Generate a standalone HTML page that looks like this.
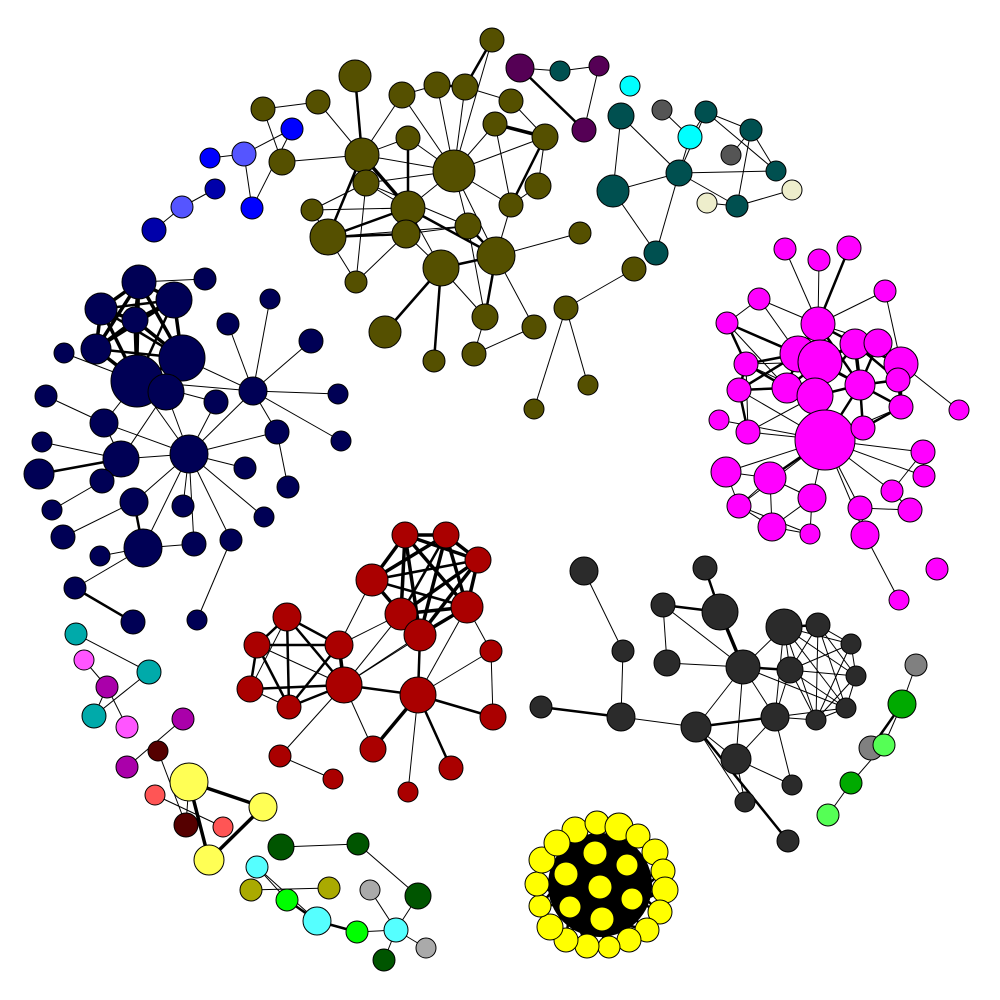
<!DOCTYPE html>
<html><head><meta charset="utf-8"><style>
html,body{margin:0;padding:0;background:#fff;}
svg{display:block;}
</style></head><body>
<svg id="net" width="1000" height="1000" viewBox="0 0 1000 1000" xmlns="http://www.w3.org/2000/svg"></svg>
<script>
// Each node: [x, y, r, color]; each edge: [i, j, width]
const oliveNodes=[[492,40,12],[355,76,16],[263,109,12],[318,102,12],[402,95,13],[437,85,13],[465,87,13],[511,101,12],[282,162,13],[362,155,17],[408,138,12],[495,124,12],[545,137,13],[454,171,21],[366,183,13],[312,210,11],[408,208,17],[328,237,18],[406,234,14],[468,226,13],[511,205,12],[538,186,13],[496,256,19],[441,268,18],[580,233,11],[356,282,11],[385,332,16],[485,317,13],[534,327,12],[566,308,12],[474,354,12],[434,361,11],[588,385,10],[534,409,10],[634,269,12]];
const oliveEdges=[[0,6,2],[0,13,1],[1,9,2],[2,3,1],[3,9,1],[8,9,1],[4,5,1],[5,6,2],[6,7,1],[4,13,1],[5,13,1],[6,13,1],[9,13,1],[10,16,2],[11,12,3],[11,13,1],[12,21,1],[12,13,1],[13,14,1],[13,16,1],[13,19,1],[13,22,1],[13,20,1],[9,14,1],[9,16,3],[9,17,2],[14,16,1],[15,16,1],[16,17,2],[16,18,1],[17,18,2],[17,25,1],[18,23,1],[18,19,1],[19,22,2],[22,23,2],[16,23,1],[23,31,2],[23,26,2],[22,27,2],[22,28,1],[22,24,1],[27,30,1],[22,20,1],[20,21,1],[11,20,1],[12,20,2],[29,34,1],[29,32,1],[29,33,1],[28,30,1],[14,25,1],[25,18,1],[9,4,1],[9,10,1],[17,19,1],[14,19,1],[16,22,2],[27,23,1],[19,27,1],[7,12,1],[10,13,1],[14,15,1],[15,17,1],[8,2,1]];
const purpleNodes=[[520,68,14,'#550055'],[599,66,10,'#550055'],[584,130,12,'#550055'],[560,71,10,'#005050']];
const purpleEdges=[[0,3,1],[3,1,1],[1,2,1],[0,2,2]];
const tealNodes=[[621,116,13,'#005050'],[613,191,16,'#005050'],[679,173,13,'#005050'],[706,112,11,'#005050'],[751,130,11,'#005050'],[776,171,10,'#005050'],[737,206,11,'#005050'],[656,253,12,'#005050'],[630,86,10,'#00ffff'],[690,137,12,'#00ffff'],[662,110,10,'#555555'],[731,155,10,'#555555'],[707,203,10,'#eeeecc'],[792,190,10,'#eeeecc']];
const tealEdges=[[0,1,1],[0,2,1],[1,2,1],[2,7,1],[2,9,1],[2,3,1],[2,6,1],[2,5,1],[3,4,1],[3,5,1],[4,5,1],[4,6,1],[6,13,1],[12,6,1],[10,9,1],[11,4,1],[1,7,1],[9,3,1]];
const blueNodes=[[292,129,11,'#0000ff'],[210,158,10,'#0000ff'],[244,154,12,'#5555ff'],[215,189,10,'#0000aa'],[252,208,11,'#0000ff'],[182,207,11,'#5555ff'],[154,230,12,'#0000aa']];
const blueEdges=[[0,4,1],[2,1,1],[2,4,1],[2,0,1],[3,5,1],[5,6,1]];
const navyNodes=[[139,282,17],[205,279,11],[101,309,16],[174,300,18],[135,320,13],[270,299,10],[228,324,11],[96,349,15],[182,358,23],[137,381,26],[64,353,10],[166,392,18],[253,391,14],[311,341,12],[338,394,10],[216,402,12],[46,396,11],[104,423,14],[277,432,12],[341,441,10],[42,442,10],[189,454,19],[121,459,18],[245,468,11],[39,474,15],[102,481,12],[288,487,11],[52,510,10],[134,502,14],[183,506,11],[264,517,10],[63,537,12],[143,548,19],[194,544,12],[231,540,11],[100,556,10],[75,588,11],[133,622,12],[197,620,10]];
const navyEdges=[[0,2,3],[0,3,3],[0,4,3],[0,7,3],[0,8,3],[0,9,2],[2,3,2],[2,4,3],[2,7,3],[2,8,2],[2,9,3],[3,4,3],[3,7,2],[3,8,3],[3,9,2],[4,7,3],[4,8,3],[4,9,3],[7,8,2],[7,9,3],[8,9,3],[8,11,3],[9,11,3],[0,1,1],[9,10,1],[9,12,1],[12,5,1],[12,6,1],[12,13,1],[12,14,1],[12,18,1],[12,19,1],[9,15,1],[9,17,1],[17,16,1],[17,21,1],[17,22,1],[21,9,1],[21,11,1],[21,15,1],[21,18,1],[21,23,1],[21,29,1],[21,30,1],[21,33,1],[21,34,1],[21,28,1],[21,22,1],[21,32,1],[21,12,1],[22,20,1],[22,24,2],[22,25,1],[25,27,1],[28,32,2],[28,31,1],[32,33,1],[32,35,1],[32,36,1],[36,37,2],[34,38,1],[18,26,1],[8,12,1],[11,22,1]];
const magentaNodes=[[785,249,11],[819,260,11],[849,248,12],[885,291,11],[759,299,11],[727,323,11],[818,324,17],[798,354,18],[820,362,22],[855,344,15],[878,343,14],[901,364,17],[746,364,12],[787,388,15],[815,396,18],[860,385,15],[898,380,12],[739,390,12],[901,407,12],[959,410,10],[719,420,10],[748,432,12],[825,440,30],[863,428,12],[923,452,12],[726,472,15],[770,478,16],[924,476,11],[892,491,11],[812,498,14],[739,506,12],[860,508,12],[910,510,12],[772,527,14],[810,534,10],[865,535,14],[937,569,11],[899,600,10]];
const magentaEdges=[[0,6,1],[1,6,1],[2,6,2],[3,6,1],[3,11,1],[4,6,1],[4,7,1],[4,5,1],[5,12,2],[5,7,2],[5,13,1],[5,8,1],[6,7,2],[6,8,3],[6,9,2],[6,10,1],[6,14,2],[7,8,3],[7,12,2],[7,13,2],[7,14,2],[7,17,2],[8,9,3],[8,14,3],[8,15,2],[8,13,2],[8,22,2],[9,10,2],[9,15,3],[9,11,2],[9,16,2],[10,11,2],[10,15,2],[11,16,3],[11,18,2],[11,19,1],[12,13,2],[12,17,2],[12,14,1],[13,14,3],[13,17,2],[14,15,2],[14,22,3],[14,21,1],[15,16,2],[15,18,2],[15,22,2],[15,23,2],[16,18,2],[17,21,2],[17,22,1],[18,22,1],[20,22,1],[21,22,1],[22,23,2],[22,24,1],[22,25,1],[22,26,2],[22,27,1],[22,29,1],[22,31,1],[22,28,1],[22,30,1],[22,35,1],[23,18,2],[25,26,1],[25,30,1],[26,29,1],[26,33,1],[26,30,1],[29,33,1],[29,34,1],[30,33,1],[30,34,1],[31,32,1],[31,35,1],[28,32,1],[28,24,1],[35,37,1],[24,27,1],[33,34,1],[6,15,2],[7,15,1],[9,14,2],[12,8,1],[21,12,1]];
const redNodes=[[405,535,13],[446,535,13],[478,560,13],[372,580,16],[467,607,16],[401,614,16],[420,635,16],[287,617,14],[339,645,14],[257,645,13],[491,651,11],[344,685,18],[250,689,13],[418,695,18],[289,707,12],[493,717,13],[280,756,11],[373,749,13],[333,779,10],[451,768,12],[408,792,10]];
const redEdges=[[0,1,3],[0,2,3],[0,3,3],[0,4,3],[0,5,3],[0,6,3],[1,2,3],[1,3,3],[1,4,3],[1,5,2],[1,6,3],[2,3,2],[2,4,3],[2,5,3],[2,6,3],[3,4,2],[3,5,3],[3,6,2],[4,5,3],[4,6,3],[5,6,3],[7,8,2],[7,9,2],[7,11,2],[7,14,2],[8,9,2],[8,11,3],[8,14,2],[9,11,1],[9,12,2],[9,14,2],[11,12,2],[11,14,2],[12,14,1],[7,12,1],[11,13,2],[6,13,2],[13,15,2],[13,10,1],[13,17,3],[13,19,2],[13,20,1],[11,16,1],[11,17,1],[16,18,1],[11,5,1],[11,6,1],[8,5,1],[8,3,1],[4,10,1],[15,10,1],[11,4,1],[13,4,1]];
const grayNodes=[[584,571,14],[705,568,12],[663,605,12],[720,612,18],[784,627,18],[818,625,12],[623,651,11],[851,644,10],[667,663,13],[743,667,17],[790,670,13],[856,676,10],[541,707,11],[621,717,14],[775,717,14],[846,708,10],[816,720,10],[696,727,15],[736,759,15],[792,785,10],[745,802,10],[788,841,11]];
const grayEdges=[[0,6,1],[6,13,1],[12,13,2],[13,17,1],[1,3,2],[2,3,2],[2,8,1],[3,9,3],[8,9,1],[4,5,2],[4,9,1],[4,10,1],[4,14,1],[5,7,1],[5,11,1],[5,15,1],[5,16,1],[7,11,1],[10,11,1],[10,15,1],[10,16,1],[10,14,1],[9,10,2],[9,14,1],[9,17,1],[9,18,1],[9,15,1],[14,16,1],[14,15,1],[14,17,2],[14,18,1],[14,19,1],[15,16,1],[16,11,1],[17,18,1],[17,20,1],[17,21,2],[18,20,1],[18,19,1],[4,11,1],[4,15,1],[7,16,1],[7,10,1],[5,10,1],[11,15,1],[4,7,1],[4,16,1],[2,9,1]];
const yellowNodes=[[575,830,13],[597,823,12],[619,827,14],[638,836,12],[655,852,13],[663,871,12],[665,890,13],[660,912,12],[647,930,12],[629,940,12],[609,947,11],[587,946,12],[566,940,12],[550,927,13],[540,906,11],[537,884,12],[542,860,13],[557,843,13],[595,853,12],[627,865,11],[566,874,12],[600,887,12],[632,899,11],[570,907,11],[602,919,12]];
const yellowEdges=[[0,18,2],[1,18,2],[2,19,2],[3,19,2],[4,19,2],[5,22,2],[6,22,2],[7,22,2],[8,24,2],[9,24,2],[10,24,2],[11,23,2],[12,23,2],[13,23,2],[14,20,2],[15,20,2],[16,20,2],[17,18,2],[18,21,3],[19,21,3],[20,21,3],[22,21,3],[23,21,3],[24,21,3],[18,19,3],[19,22,3],[22,24,3],[24,23,3],[23,20,3],[20,18,3],[0,21,2],[4,21,2],[8,21,2],[12,21,2],[16,21,2],[2,20,2],[6,24,2],[10,20,2],[14,22,2],[3,23,2],[7,18,2],[11,19,2],[15,24,2],[1,22,2],[5,23,2],[9,20,2],[13,19,2],[17,24,2]];
const smallNodes=[[76,634,11,'#00aaaa'],[84,660,10,'#ff55ff'],[149,672,12,'#00aaaa'],[107,687,11,'#aa00aa'],[94,716,12,'#00aaaa'],[127,727,11,'#ff55ff'],[183,719,11,'#aa00aa'],[158,751,10,'#550000'],[127,767,11,'#aa00aa'],[155,795,10,'#ff5555'],[189,782,19,'#ffff55'],[263,807,14,'#ffff55'],[186,825,12,'#550000'],[223,827,10,'#ff5555'],[209,860,15,'#ffff55'],
[281,847,13,'#005500'],[358,844,11,'#005500'],[257,867,11,'#55ffff'],[251,890,11,'#aaaa00'],[329,888,11,'#aaaa00'],[370,890,10,'#aaaaaa'],[418,896,13,'#005500'],[287,900,11,'#00ff00'],[317,921,14,'#55ffff'],[357,932,11,'#00ff00'],[396,930,12,'#55ffff'],[426,948,10,'#aaaaaa'],[384,960,11,'#005500'],
[916,665,11,'#808080'],[902,704,14,'#00aa00'],[871,748,12,'#808080'],[884,745,11,'#55ff55'],[851,783,11,'#00aa00'],[828,815,11,'#55ff55']];
const smallEdges=[[0,2,1],[1,3,1],[3,4,1],[2,4,1],[3,5,1],[6,8,1],[7,12,1],[9,13,1],[10,11,3],[10,14,3],[14,11,3],[12,10,1],
[15,16,1],[16,21,1],[17,23,1],[18,19,1],[22,23,2],[23,24,2],[24,25,1],[20,25,1],[25,21,1],[25,26,1],[25,27,1],[17,22,1],
[28,29,1],[29,30,2],[29,31,1],[32,33,1],[31,32,1]];

const NS='http://www.w3.org/2000/svg';
const svg=document.getElementById('net');
const gE=document.createElementNS(NS,'g');


const gN=document.createElementNS(NS,'g');


// solid dark interior of yellow cluster
const bg=document.createElementNS(NS,'circle');
bg.setAttribute('cx',600);bg.setAttribute('cy',885);bg.setAttribute('r',52);bg.setAttribute('fill','#000');


svg.appendChild(bg);
svg.appendChild(gE);svg.appendChild(gN);

function draw(name,nodes,edges,defColor){
  edges.forEach(e=>{
    const a=nodes[e[0]],b=nodes[e[1]];
    const l=document.createElementNS(NS,'line');
    l.setAttribute('x1',a[0]);l.setAttribute('y1',a[1]);l.setAttribute('x2',b[0]);l.setAttribute('y2',b[1]);
    l.setAttribute('stroke','#000');l.setAttribute('stroke-width',e[2]===1?1:e[2]===2?2.5:3.5);
    
    
    gE.appendChild(l);
  });
  nodes.forEach(n=>{
    const c=document.createElementNS(NS,'circle');
    c.setAttribute('cx',n[0]);c.setAttribute('cy',n[1]);c.setAttribute('r',n[2]);
    c.setAttribute('fill',n[3]||defColor);c.setAttribute('stroke','#000');c.setAttribute('stroke-width',1);
    
    
    gN.appendChild(c);
  });
}
draw('olive',oliveNodes,oliveEdges,'#555000');
draw('purple',purpleNodes,purpleEdges,'#550055');
draw('teal',tealNodes,tealEdges,'#005050');
draw('blue',blueNodes,blueEdges,'#0000ff');
draw('navy',navyNodes,navyEdges,'#000055');
draw('magenta',magentaNodes,magentaEdges,'#ff00ff');
draw('red',redNodes,redEdges,'#aa0000');
draw('gray',grayNodes,grayEdges,'#2b2b2b');
draw('yellow',yellowNodes,yellowEdges,'#ffff00');
draw('small',smallNodes,smallEdges,'#888');
</script>
</body></html>
